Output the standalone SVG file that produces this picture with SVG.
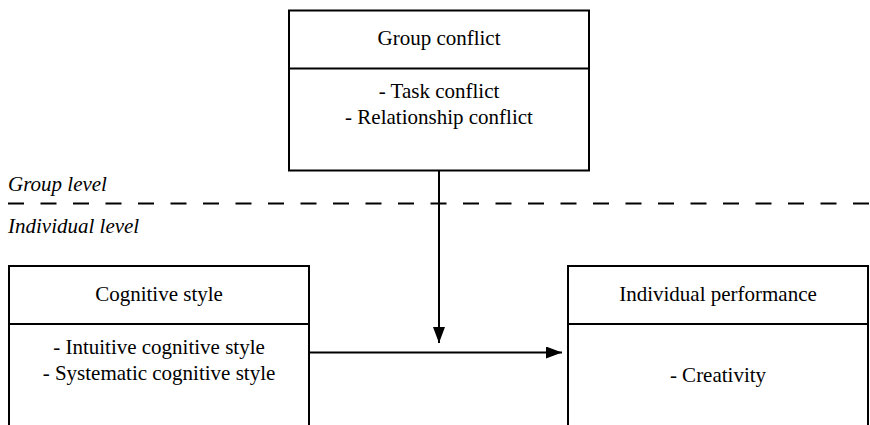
<svg xmlns="http://www.w3.org/2000/svg" width="870" height="425" viewBox="0 0 870 425">
<style>
.box{fill:#fff;stroke:#000;stroke-width:2}
.div{stroke:#000;stroke-width:2}
.con{stroke:#000;stroke-width:2;fill:none}
</style>
<defs>
<marker id="ah" markerWidth="16" markerHeight="12" refX="16" refY="6" orient="auto" markerUnits="userSpaceOnUse">
<path d="M0,0 L16,6 L0,12 Z" fill="#000"/>
</marker>
</defs>
<rect width="870" height="425" fill="#fff"/>
<g font-family="Liberation Serif, Times New Roman, serif" font-size="21" fill="#000">
<g id="levels" font-style="italic">
<text x="8" y="191">Group level</text>
<line x1="8" y1="203.5" x2="870" y2="203.5" stroke="#000" stroke-width="2" stroke-dasharray="16,16.5"/>
<text x="8" y="233">Individual level</text>
</g>
<g id="group-conflict" text-anchor="middle">
<rect class="box" x="289" y="10.5" width="300" height="160"/>
<line class="div" x1="289" y1="68.5" x2="589" y2="68.5"/>
<text x="439" y="45">Group conflict</text>
<text x="439" y="98">- Task conflict</text>
<text x="439" y="124">- Relationship conflict</text>
</g>
<g id="cognitive-style" text-anchor="middle">
<rect class="box" x="9" y="266" width="300" height="170"/>
<line class="div" x1="9" y1="324" x2="309" y2="324"/>
<text x="159" y="301">Cognitive style</text>
<text x="159" y="354">- Intuitive cognitive style</text>
<text x="159" y="380">- Systematic cognitive style</text>
</g>
<g id="individual-performance" text-anchor="middle">
<rect class="box" x="568" y="266" width="300" height="170"/>
<line class="div" x1="568" y1="324" x2="868" y2="324"/>
<text x="718" y="301">Individual performance</text>
<text x="718" y="382">- Creativity</text>
</g>
</g>
<g id="connectors">
<line class="con" x1="439" y1="170.5" x2="439" y2="343" marker-end="url(#ah)"/>
<line class="con" x1="309" y1="352.5" x2="562" y2="352.5" marker-end="url(#ah)"/>
</g>
</svg>
